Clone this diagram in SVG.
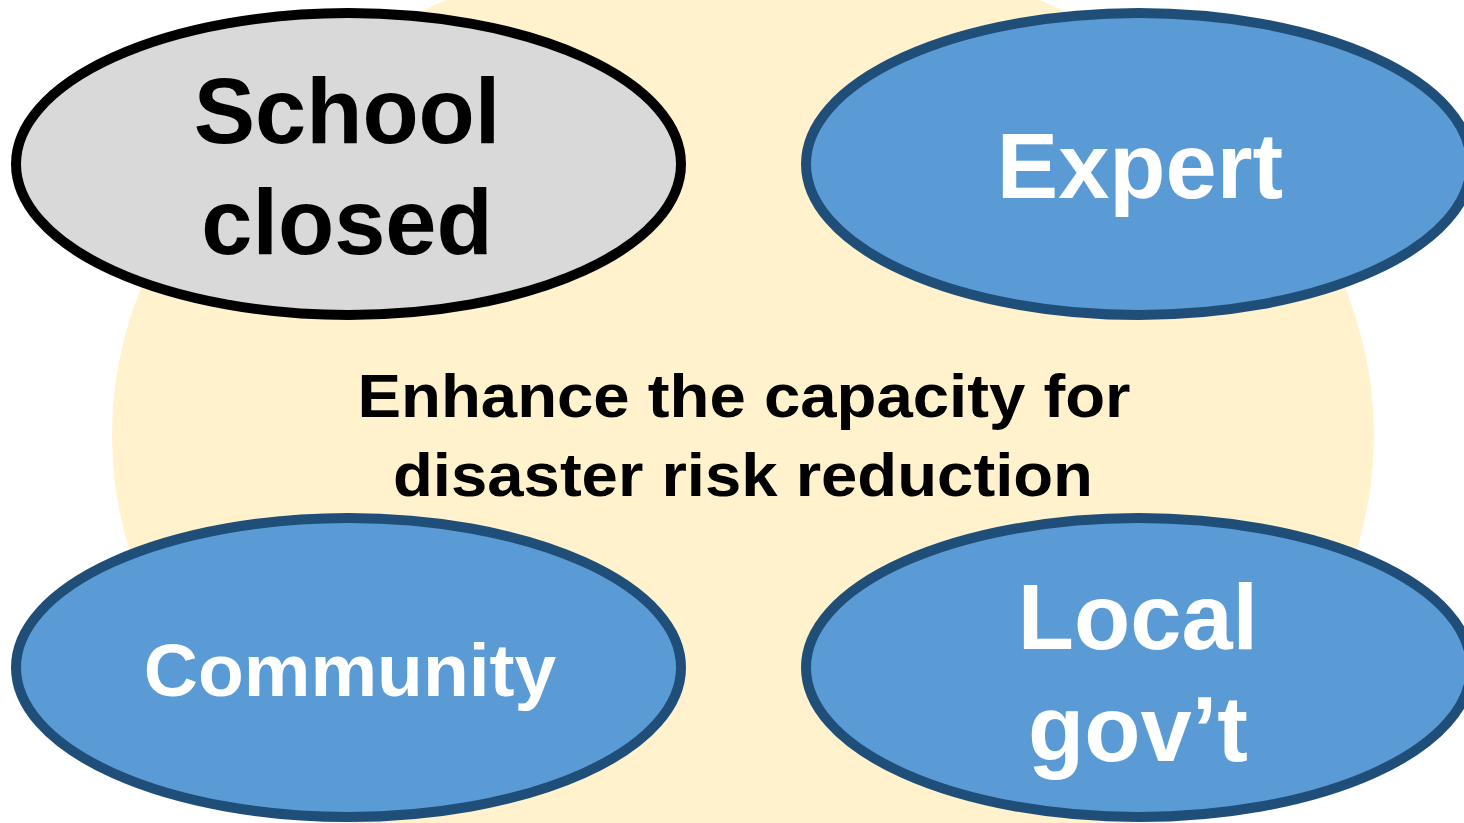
<svg xmlns="http://www.w3.org/2000/svg" width="1464" height="823" viewBox="0 0 1464 823">
  <style>
    .t { font-family: "Liberation Sans", Arial, sans-serif; font-weight: bold; text-anchor: middle; }
    .blue { fill: #5B9BD5; stroke: #1F4E79; stroke-width: 10; }
    .gray { fill: #D9D9D9; stroke: #000000; stroke-width: 10; }
    .w { fill: #FFFFFF; }
    .k { fill: #000000; }
  </style>
  <rect width="1464" height="823" fill="#FFFFFF"/>
  <g id="background">
    <ellipse cx="743" cy="435" rx="631" ry="493" fill="#FFF2CC"/>
  </g>
  <g id="center-text">
    <text class="t k" x="744" y="417" font-size="62" textLength="773" lengthAdjust="spacingAndGlyphs">Enhance the capacity for</text>
    <text class="t k" x="743" y="496" font-size="62" textLength="700" lengthAdjust="spacingAndGlyphs">disaster risk reduction</text>
  </g>
  <g id="connectors"></g>
  <g id="school-closed">
    <ellipse class="gray" cx="348.5" cy="164" rx="332.5" ry="151"/>
    <text class="t k" x="347" y="143" font-size="92">School</text>
    <text class="t k" x="347" y="254" font-size="92">closed</text>
  </g>
  <g id="expert">
    <ellipse class="blue" cx="1138.5" cy="164" rx="332.5" ry="151"/>
    <text class="t w" x="1140" y="198" font-size="92">Expert</text>
  </g>
  <g id="community">
    <ellipse class="blue" cx="348.5" cy="667.5" rx="332.5" ry="149.5"/>
    <text class="t w" x="350" y="696" font-size="75">Community</text>
  </g>
  <g id="local-govt">
    <ellipse class="blue" cx="1138.5" cy="667.5" rx="332.5" ry="149.5"/>
    <text class="t w" x="1138" y="649" font-size="92">Local</text>
    <text class="t w" x="1138" y="761" font-size="92">gov’t</text>
  </g>
</svg>
